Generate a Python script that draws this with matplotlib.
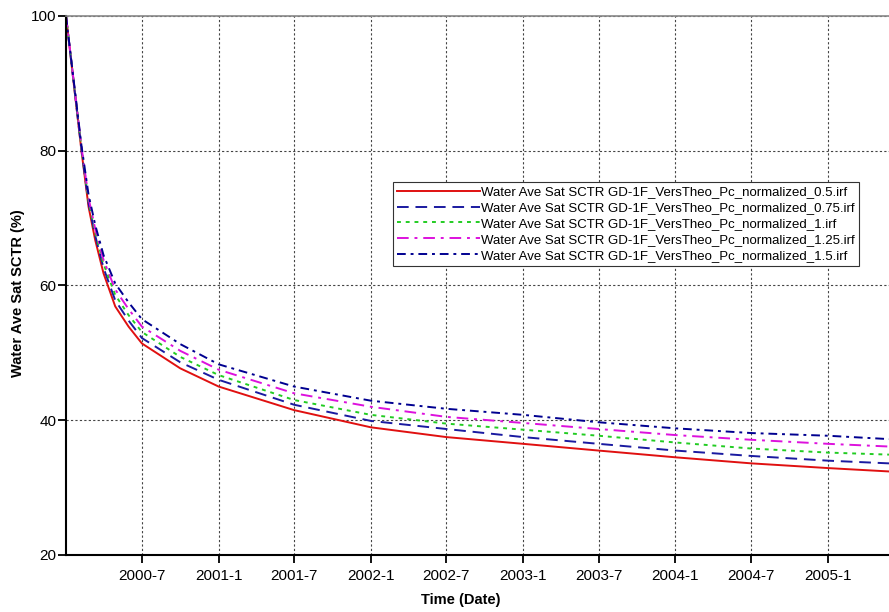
import pandas as pd
import matplotlib
matplotlib.use('Agg')
import matplotlib.pyplot as plt

plt.rcParams['font.family'] = ['Liberation Sans', 'DejaVu Sans']

# Sample dates
dates = ['2000-01-01', '2000-02-07', '2000-02-14', '2000-02-24', '2000-03-11',
         '2000-03-31', '2000-04-28', '2000-05-30', '2000-07-01', '2000-10-01',
         '2001-01-01', '2001-07-01', '2002-01-01', '2002-07-01', '2003-01-01',
         '2003-07-01', '2004-01-01', '2004-07-01', '2005-01-01', '2005-05-27']

# Water saturation (%) for each Pc scaling case
sat_05 = [100, 80.0, 76.6, 71.7, 66.75, 61.8, 56.9, 53.9, 51.4, 47.7,
          45.0, 41.5, 38.95, 37.5, 36.5, 35.5, 34.5, 33.6, 32.9, 32.4]
sat_075 = [100, 80.2, 76.9, 72.2, 67.4, 62.6, 57.8, 54.8, 52.2, 48.6,
           46.0, 42.3, 39.9, 38.7, 37.5, 36.5, 35.5, 34.7, 34.0, 33.6]
sat_1 = [100, 80.4, 77.2, 72.6, 67.9, 63.2, 58.6, 55.6, 53.1, 49.4,
         46.7, 43.0, 40.8, 39.5, 38.6, 37.7, 36.7, 35.8, 35.2, 34.9]
sat_125 = [100, 80.6, 77.5, 73.0, 68.4, 63.8, 59.4, 56.5, 53.9, 50.3,
           47.5, 44.0, 42.0, 40.5, 39.6, 38.7, 37.8, 37.1, 36.5, 36.1]
sat_15 = [100, 80.8, 77.8, 73.5, 69.0, 64.5, 60.3, 57.5, 55.0, 51.3,
          48.3, 45.0, 42.9, 41.7, 40.8, 39.7, 38.8, 38.1, 37.7, 37.2]

labels = ['Water Ave Sat SCTR GD-1F_VersTheo_Pc_normalized_0.5.irf',
          'Water Ave Sat SCTR GD-1F_VersTheo_Pc_normalized_0.75.irf',
          'Water Ave Sat SCTR GD-1F_VersTheo_Pc_normalized_1.irf',
          'Water Ave Sat SCTR GD-1F_VersTheo_Pc_normalized_1.25.irf',
          'Water Ave Sat SCTR GD-1F_VersTheo_Pc_normalized_1.5.irf']

tick_dates = ['2000-07-01', '2001-01-01', '2001-07-01', '2002-01-01', '2002-07-01',
              '2003-01-01', '2003-07-01', '2004-01-01', '2004-07-01', '2005-01-01']
tick_labels = ['2000-7', '2001-1', '2001-7', '2002-1', '2002-7',
               '2003-1', '2003-7', '2004-1', '2004-7', '2005-1']

t = pd.to_datetime(dates)

fig = plt.figure(figsize=(8.89, 6.12), dpi=100)
ax = fig.add_axes([66 / 889, 57 / 612, 823 / 889, 539 / 612])

styles = [
    dict(color='#e01010', linestyle='-', linewidth=1.4),
    dict(color='#1a1aa0', linestyle=(0, (6, 3.5)), linewidth=1.4),
    dict(color='#22cc22', linestyle=(0, (2, 2.5)), linewidth=1.4),
    dict(color='#dd11dd', linestyle=(0, (6, 3, 1.5, 3)), linewidth=1.4),
    dict(color='#000090', linestyle=(0, (4.5, 2.5, 1.5, 2.5)), linewidth=1.4),
]
for series, lab, st in zip([sat_05, sat_075, sat_1, sat_125, sat_15], labels, styles):
    ax.plot(t, series, label=lab, **st)

ax.set_xlim(pd.Timestamp('2000-01-01'), pd.Timestamp('2005-05-27'))
ax.set_ylim(20, 100)
ax.set_yticks([20, 40, 60, 80, 100])
ax.set_xticks(pd.to_datetime(tick_dates))
ax.set_xticklabels(tick_labels)

ax.grid(True, color='#444444', linestyle=(0, (2, 2)), linewidth=0.8)
ax.tick_params(axis='both', direction='out', length=6, width=1.3, labelsize=11,
               colors='black', pad=1)
ax.tick_params(axis='x', pad=4)

for side in ['left', 'bottom']:
    ax.spines[side].set_linewidth(1.5)
    ax.spines[side].set_color('black')
ax.spines['top'].set_color('#888888')
ax.spines['top'].set_linewidth(1.2)
ax.spines['right'].set_visible(False)

ax.set_xlabel('Time (Date)', fontsize=10.5, fontweight='bold')
ax.set_ylabel('Water Ave Sat SCTR (%)', fontsize=10.5, fontweight='bold')
ax.xaxis.set_label_coords(0.48, -0.07)
ax.yaxis.set_label_coords(-0.0498, 0.485)

leg = ax.legend(loc='upper left', bbox_to_anchor=(0.397, 0.692), fontsize=9.5,
                handlelength=6.3, handletextpad=0.1, labelspacing=0.28,
                borderpad=0.3, borderaxespad=0, fancybox=False, framealpha=1)
leg.get_frame().set_edgecolor('#333333')
leg.get_frame().set_linewidth(0.8)

fig.savefig('out.png', dpi=100)
